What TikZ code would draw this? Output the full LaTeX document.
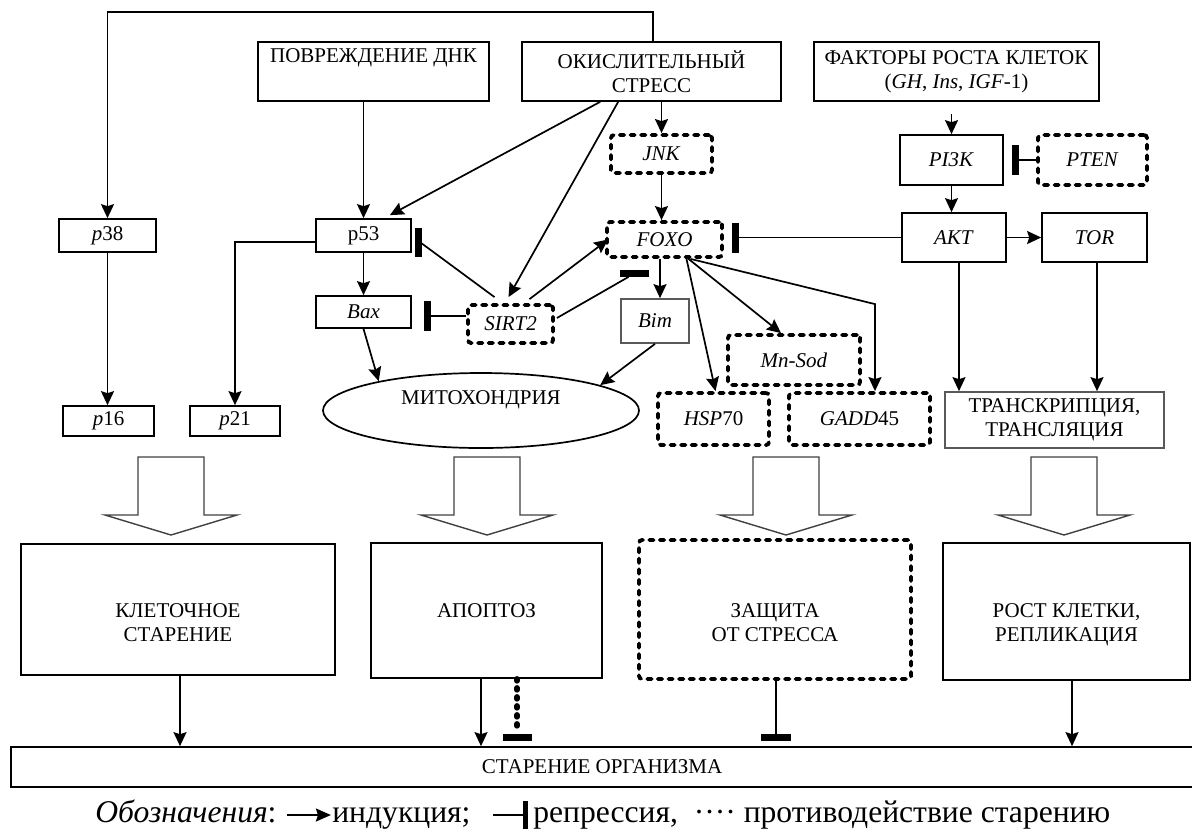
\documentclass[tikz,border=0pt]{standalone}
\usepackage{fontspec}
\setmainfont{Liberation Serif}
\usetikzlibrary{arrows.meta,calc,shapes.geometric}
\newcommand\lblfont{\fontsize{10.5pt}{12pt}\selectfont}
\newcommand\legfont{\fontsize{15.8pt}{18pt}\selectfont}
\begin{document}
\begin{tikzpicture}[x=0.5pt,y=-0.5pt,
  sz/.style 2 args={minimum width=#1*0.5pt,minimum height=#2*0.5pt},
  box/.style={draw,line width=0.85pt,inner sep=0pt,align=center,font=\lblfont},
  dbox/.style={box,line width=1.9pt,dash pattern=on 2.2pt off 3.1pt,line cap=round,rounded corners=1.5pt},
  gbox/.style={box,draw=black!65},
  ind/.style={line width=0.85pt,-{Stealth[length=7pt,width=6.5pt,inset=1pt]}},
  repr/.style={line width=0.85pt,-{Rectangle[length=3.5pt,width=15pt]}},
  plain/.style={line width=0.85pt},
  dotline/.style={line width=2.8pt,dash pattern=on 1pt off 3.5pt,line cap=round},
  fat/.style={draw=black!75,line width=0.7pt,fill=white},
  fatarrow/.pic={\draw[fat] (-33,0) -- (-33,58) -- (-66,58) -- (0,78) -- (66,58) -- (33,58) -- (33,0) -- cycle;},
  legtext/.style={anchor=base west,inner sep=0pt,font=\legfont},
]
\useasboundingbox (0,0) rectangle (1192,831);

% --- sources ---
\node[box,sz={231}{59}] (dna) at (373.5,71.5) {ПОВРЕЖДЕНИЕ ДНК\\\strut};
\node[box,sz={259}{59}] (ox) at (651.5,71.5) {ОКИСЛИТЕЛЬНЫЙ\\СТРЕСС};
\node[box,sz={285}{59}] (gf) at (956.5,71.5) {ФАКТОРЫ РОСТА КЛЕТОК\\(\textit{GH}, \textit{Ins}, \textit{IGF}-1)};

% --- signalling nodes ---
\node[dbox,sz={101}{38}] (jnk) at (661.5,154) {\textit{JNK}};
\node[box,sz={103}{50}] (pi3k) at (951.5,160) {\textit{PI3K}};
\node[dbox,sz={109}{50}] (pten) at (1092.5,160) {\textit{PTEN}};
\node[box,sz={97}{33}] (p38) at (107.5,235.5) {\textit{p}38};
\node[box,sz={95}{33}] (p53) at (363.5,235.5) {p53};
\node[dbox,sz={115}{35}] (foxo) at (664.5,239.5) {\textit{FOXO}};
\node[box,sz={104}{49}] (akt) at (954,237.5) {\textit{AKT}};
\node[box,sz={105}{49}] (tor) at (1094.5,237.5) {\textit{TOR}};
\node[box,sz={95}{32}] (bax) at (363.5,312) {\textit{Bax}};
\node[dbox,sz={85}{38}] (sirt) at (510.5,324) {\textit{SIRT2}};
\node[gbox,sz={68}{44}] (bim) at (655,321) {\textit{Bim}};
\node[dbox,sz={132}{50}] (mnsod) at (794,360) {\textit{Mn-Sod}};
\node[dbox,sz={111}{52}] (hsp) at (713.5,419) {\textit{HSP}70};
\node[dbox,sz={141}{52}] (gadd) at (859.5,419) {\textit{GADD}45};
\node[gbox,sz={219}{56}] (trans) at (1054.5,420) {ТРАНСКРИПЦИЯ,\\ТРАНСЛЯЦИЯ};
\node[box,sz={91}{30}] (p16) at (108.5,421) {\textit{p}16};
\node[box,sz={90}{30}] (p21) at (235,421) {\textit{p}21};
\node[draw,ellipse,line width=0.85pt,inner sep=0pt,sz={316}{75}] (mito) at (481,410.5) {};
\node[font=\lblfont,inner sep=0pt] (mitotext) at ($(mito.center)+(0,-11)$) {МИТОХОНДРИЯ};

% --- outcomes ---
\node[box,sz={314}{131}] (ks) at (178,609.5) {\strut\\КЛЕТОЧНОЕ\\СТАРЕНИЕ};
\node[box,sz={231}{135}] (apo) at (486.5,610.5) {АПОПТОЗ};
\node[dbox,sz={272}{139}] (stress) at (775,609.5) {\strut\\ЗАЩИТА\\ОТ СТРЕССА};
\node[box,sz={247}{137}] (growth) at (1066.5,611.5) {\strut\\РОСТ КЛЕТКИ,\\РЕПЛИКАЦИЯ};
\node[box,sz={1182}{40}] (aging) at (602,767) {СТАРЕНИЕ ОРГАНИЗМА};

% --- broad arrows into the outcomes ---
\pic at (171,457) {fatarrow};
\pic at (487,457) {fatarrow};
\pic at (786,457) {fatarrow};
\pic at (1064,457) {fatarrow};

% --- connectors ---
\draw[ind] ($(ox.north)+(1.5,0)$) -- ++(0,-29) -| (p38.north);
\draw[ind] (p53.north |- dna.south) -- (p53.north);
\draw[ind] ($(ox.south west)+(79,0)$) -- ($(p53.north east)+(-22,-3)$);
\draw[ind] ($(ox.south west)+(97,0)$) -- ($(sirt.north)+(-2,-6)$);
\draw[ind] (jnk.north |- ox.south) -- (jnk.north);
\draw[ind] (jnk.south) -- (jnk.south |- foxo.north);
\draw[ind] ($(pi3k.north |- gf.south)+(0,12)$) -- (pi3k.north);
\draw[ind] (pi3k.south) -- (pi3k.south |- akt.north);
\draw[repr] (pten.west) -- ($(pi3k.east)+(8,0)$);
\draw[repr] (akt.west) -- ($(akt.west -| foxo.east)+(8,0)$);
\draw[ind] (akt.east) -- (tor.west);
\draw[ind] ($(akt.south)+(5,0)$) -- ($(akt.south |- trans.north)+(5,0)$);
\draw[ind] ($(tor.south)+(2.5,0)$) -- ($(tor.south |- trans.north)+(2.5,0)$);
\draw[ind] (p38.south) -- (p38.south |- p16.north);
\draw[ind] ($(p53.west)+(0,6.5)$) -| (p21.north);
\draw[ind] (p53.south) -- (bax.north);
\draw[ind] (bax.south) -- (mito.164);
\draw[ind] (bim.south) -- (mito.12);
\draw[ind] ($(bim.north |- foxo.south)+(5,0)$) -- ($(bim.north)+(5,0)$);
\draw[ind] ($(foxo.south)+(22,0)$) -- ($(hsp.north)+(2,0)$);
\draw[ind] ($(foxo.south)+(24,0)$) -- ($(mnsod.north)+(-13,0)$);
\draw[ind] ($(foxo.south)+(26,0)$) -- ($(gadd.north)+(15.5,-87)$) -- ($(gadd.north)+(15.5,0)$);
\draw[ind] ($(sirt.north)+(19,-4)$) -- ($(foxo.west)+(3,0)$);
\draw[plain] ($(sirt.north)+(-16,-6)$) -- ($(p53.east)+(10,8)$);
\fill ($(p53.east)+(3,-7.5)$) rectangle ($(p53.east)+(10,21.5)$);
\draw[repr] ($(sirt.west)+(0,-8)$) -- ($(bax.east)+(12,4)$);
\draw[plain] ($(sirt.east)+(2,-6)$) -- ($(foxo.south)+(-36,18)$);
\fill ($(foxo.south)+(-44.5,11)$) rectangle ($(foxo.south)+(-15.5,18)$);

% --- outcomes into organismal ageing ---
\draw[ind] ($(ks.south)+(2,0)$) -- ($(ks.south |- aging.north)+(2,0)$);
\draw[ind] ($(apo.south)+(-5.5,0)$) -- ($(apo.south |- aging.north)+(-5.5,0)$);
\draw[dotline] ($(apo.south)+(30.5,0)$) -- ($(apo.south |- aging.north)+(30.5,-14)$);
\fill ($(apo.south |- aging.north)+(16,-12)$) rectangle ($(apo.south |- aging.north)+(45,-5)$);
\draw[repr] ($(stress.south)+(1,0)$) -- ($(stress.south |- aging.north)+(1,-5)$);
\draw[ind] ($(growth.south)+(5.5,0)$) -- ($(growth.south |- aging.north)+(5.5,0)$);

% --- key ---
\node[legtext] (lg1) at (95,822) {\textit{Обозначения}:};
\draw[line width=0.9pt,-{Stealth[length=7.5pt,width=6.5pt,inset=1pt]}] ($(lg1.base east)+(10,-7)$) -- ++(44,0) coordinate (la);
\node[legtext] (lg2) at ($(la)+(1,7)$) {индукция;};
\draw[line width=0.9pt,-{Rectangle[length=2.5pt,width=14pt]}] ($(lg2.base east)+(22,-7)$) -- ++(35,0) coordinate (lb);
\node[legtext] (lg3) at ($(lb)+(5,7)$) {репрессия,};
\node[legtext] (lg4) at ($(lg3.base east)+(15,0)$) {····};
\node[legtext] (lg5) at ($(lg4.base east)+(7,0)$) {противодействие старению};
\end{tikzpicture}
\end{document}
